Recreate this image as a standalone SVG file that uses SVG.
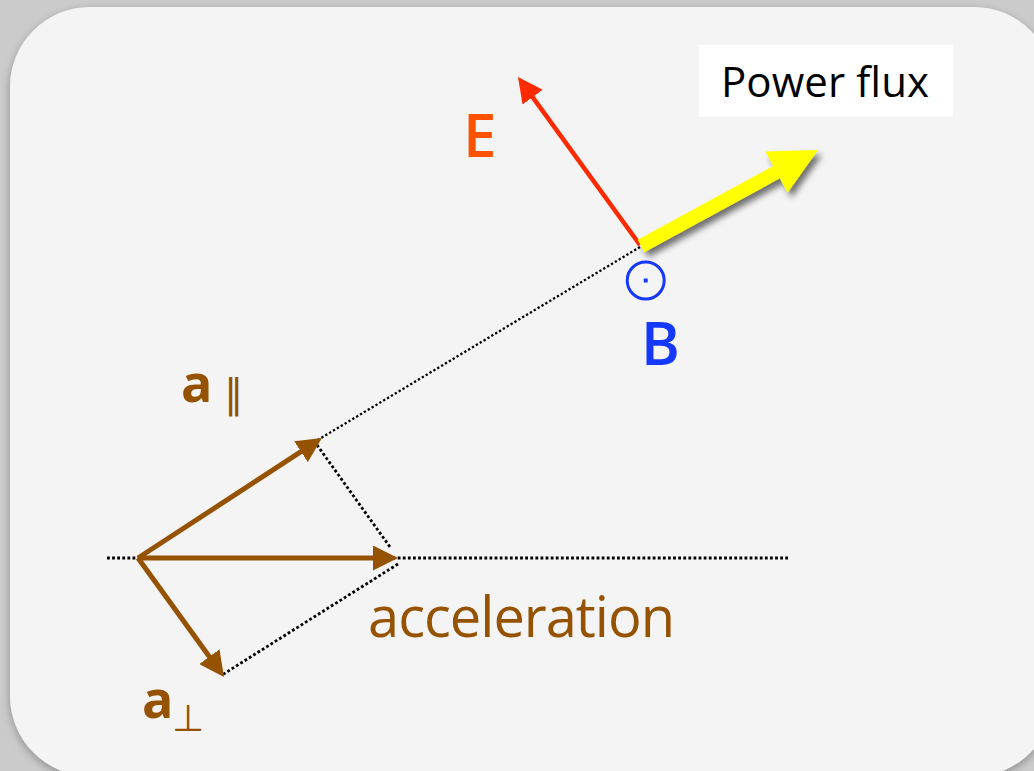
<svg xmlns="http://www.w3.org/2000/svg" width="1034" height="771" viewBox="0 0 1034 771">
<style>
  .brown { stroke: #955200; stroke-width: 5; fill: none; }
  .red { stroke: #ff2a00; stroke-width: 4.5; fill: none; }
  .dot { stroke: #000; stroke-width: 2.8; stroke-dasharray: 2.8 2.3; fill: none; }
  .dot-thin { stroke: #000; stroke-width: 2.3; stroke-dasharray: 2.3 2.2; fill: none; }
  .lbl { font-family: "Open Sans", "DejaVu Sans", sans-serif; }
  .sym { font-family: "DejaVu Sans", sans-serif; }
</style>
<defs>
  <filter id="panelShadow" x="-5%" y="-5%" width="110%" height="110%">
    <feDropShadow dx="0" dy="3" stdDeviation="4" flood-color="#000" flood-opacity="0.3"/>
  </filter>
  <filter id="arrowShadow" x="-20%" y="-20%" width="140%" height="140%">
    <feDropShadow dx="4" dy="5" stdDeviation="3" flood-color="#000" flood-opacity="0.55"/>
  </filter>
  <marker id="headBrown" viewBox="0 0 25 25" refX="10" refY="12.5" markerWidth="25" markerHeight="25" markerUnits="userSpaceOnUse" orient="auto">
    <path d="M0,0 L25,12.5 L0,25 Z" fill="#955200"/>
  </marker>
  <marker id="headRed" viewBox="0 0 25 25" refX="10" refY="12.5" markerWidth="25" markerHeight="25" markerUnits="userSpaceOnUse" orient="auto">
    <path d="M0,0 L25,12.5 L0,25 Z" fill="#ff2a00"/>
  </marker>
</defs>

<rect x="0" y="0" width="1034" height="771" fill="#cbcbcb"/>
<rect x="10" y="7" width="1044" height="769" rx="80" ry="80" fill="#f4f4f4" filter="url(#panelShadow)"/>

<g id="connectors">
  <line class="dot" x1="107" y1="558" x2="788" y2="558"/>
  <line class="dot-thin" x1="640" y1="247" x2="316" y2="441"/>
  <line class="dot" x1="317" y1="445" x2="390" y2="547"/>
  <line class="dot" x1="398" y1="564" x2="222" y2="675"/>
  <line class="brown" x1="138" y1="558" x2="383" y2="558" marker-end="url(#headBrown)"/>
  <line class="brown" x1="138" y1="558" x2="309.4" y2="446.2" marker-end="url(#headBrown)"/>
  <line class="brown" x1="138" y1="558" x2="215.2" y2="664.8" marker-end="url(#headBrown)"/>
  <line class="red" x1="640" y1="245" x2="526.8" y2="89.1" marker-end="url(#headRed)"/>
  <polygon points="637.7,239.8 773.2,165.9 765.4,151.4 818,150 787.6,192.8 779.8,178.3 644.3,252.2" fill="#ffff00" filter="url(#arrowShadow)"/>
</g>

<g id="power-flux">
  <rect x="699" y="45" width="254" height="72" fill="#ffffff"/>
  <text class="lbl" x="721" y="97" font-size="42" fill="#000" textLength="208">Power flux</text>
</g>

<g id="E">
  <text class="lbl" x="463" y="157" font-size="60" font-weight="600" fill="#ff5200">E</text>
</g>

<g id="B">
  <circle cx="645.7" cy="280.5" r="18.5" fill="none" stroke="#1538ff" stroke-width="3"/>
  <rect x="643.7" y="278.5" width="4" height="4" fill="#1538ff"/>
  <text class="lbl" x="641" y="365" font-size="59" font-weight="600" fill="#1538ff">B</text>
</g>

<g id="a-parallel">
  <text class="lbl" x="181" y="402" font-size="52" font-weight="700" fill="#955200">a</text>
  <text class="sym" x="224" y="408" font-size="40" fill="#955200">∥</text>
</g>

<g id="a-perp">
  <text class="lbl" x="142" y="718" font-size="52" font-weight="700" fill="#955200">a</text>
  <text class="sym" x="172" y="731" font-size="37" fill="#955200">⊥</text>
</g>

<g id="acceleration">
  <text class="lbl" x="368" y="637" font-size="56" fill="#955200" textLength="307">acceleration</text>
</g>
</svg>
